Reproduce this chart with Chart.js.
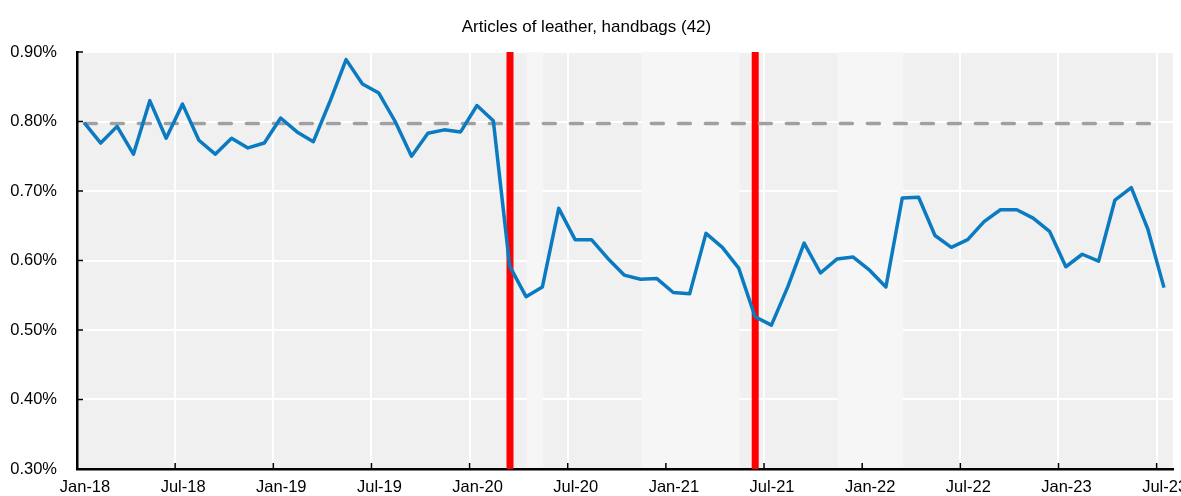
<!DOCTYPE html>
<html>
<head>
<meta charset="utf-8">
<script src="https://cdn.jsdelivr.net/npm/chart.js@4.4.0/dist/chart.umd.min.js"></script>
<style>
  html, body { margin: 0; padding: 0; overflow: hidden; background: #fff; }
  #wrap { width: 1200px; height: 496px; }
</style>
</head>
<body>
<div id="wrap"><canvas id="chart"></canvas></div>
<script>
// Monthly share (%), Jan-18 to Jul-23
const shareValues = [
  0.798, 0.769, 0.793, 0.753, 0.830, 0.776, 0.825, 0.773, 0.753, 0.776, 0.762, 0.769,
  0.805, 0.785, 0.771, 0.828, 0.889, 0.854, 0.841, 0.800, 0.750, 0.783, 0.788, 0.785,
  0.823, 0.801, 0.592, 0.548, 0.562, 0.675, 0.630, 0.630, 0.603, 0.579, 0.573, 0.574,
  0.554, 0.552, 0.639, 0.619, 0.589, 0.519, 0.507, 0.562, 0.625, 0.582, 0.602, 0.605,
  0.586, 0.562, 0.690, 0.691, 0.636, 0.619, 0.630, 0.656, 0.673, 0.673, 0.661, 0.642,
  0.591, 0.609, 0.599, 0.687, 0.705, 0.646, 0.561
];
const referenceLevel = 0.797;

// months counted from Jan-18 = 0
const tickMonths = [0, 6, 12, 18, 24, 30, 36, 42, 48, 54, 60, 66];
const tickLabels = ['Jan-18', 'Jul-18', 'Jan-19', 'Jul-19', 'Jan-20', 'Jul-20',
                    'Jan-21', 'Jul-21', 'Jan-22', 'Jul-22', 'Jan-23', 'Jul-23'];
const yTicks = [0.3, 0.4, 0.5, 0.6, 0.7, 0.8, 0.9];

// lighter shaded periods and the two red event markers (in months)
const lighterPeriods = [[27.5, 28.5], [34.5, 40.5], [46.5, 50.5]];
const eventMonths = [26.47, 41.46];

const midMonth = 0.45; // values are plotted around mid-month

const fontFamily = "'Liberation Sans', Arial, sans-serif";

const backdrop = {
  id: 'backdrop',
  beforeDraw(chart) {
    const { ctx, chartArea: a } = chart;
    ctx.save();
    ctx.fillStyle = '#f0f0f0';
    ctx.fillRect(a.left, a.top, a.right - a.left, a.bottom - a.top);
    ctx.restore();
  },
  beforeDatasetsDraw(chart) {
    const { ctx, chartArea: a, scales: { x } } = chart;
    ctx.save();
    ctx.fillStyle = '#f6f6f6';
    lighterPeriods.forEach(([from, to]) => {
      const x0 = x.getPixelForValue(from);
      const x1 = x.getPixelForValue(to);
      ctx.fillRect(x0, a.top, x1 - x0, a.bottom - a.top - 1.5);
    });
    ctx.strokeStyle = '#ff0000';
    ctx.lineWidth = 7;
    eventMonths.forEach(m => {
      const px = x.getPixelForValue(m);
      ctx.beginPath();
      ctx.moveTo(px, a.top);
      ctx.lineTo(px, a.bottom);
      ctx.stroke();
    });
    ctx.restore();
  },
  afterDatasetsDraw(chart) {
    // small inward tick marks
    const { ctx, chartArea: a, scales: { x, y } } = chart;
    ctx.save();
    ctx.strokeStyle = '#000';
    ctx.lineWidth = 1.5;
    ctx.beginPath();
    tickMonths.forEach(m => {
      const px = x.getPixelForValue(m);
      ctx.moveTo(px, a.bottom);
      ctx.lineTo(px, a.bottom - 6);
    });
    yTicks.forEach(v => {
      const py = y.getPixelForValue(v);
      ctx.moveTo(a.left, py);
      ctx.lineTo(a.left + 6, py);
    });
    ctx.stroke();
    ctx.restore();
  }
};

new Chart(document.getElementById('chart'), {
  type: 'line',
  data: {
    datasets: [
      {
        label: 'Share',
        data: shareValues.map((v, i) => ({ x: i + midMonth, y: v })),
        borderColor: '#0b7bc1',
        borderWidth: 3.5,
        borderJoinStyle: 'round',
        pointRadius: 0,
        tension: 0,
        order: 1
      },
      {
        label: 'Reference',
        data: shareValues.map((v, i) => ({ x: i + midMonth, y: referenceLevel })),
        borderColor: '#a0a0a0',
        borderWidth: 3.5,
        borderDash: [12, 15],
        borderCapStyle: 'round',
        pointRadius: 0,
        order: 2
      }
    ]
  },
  options: {
    responsive: true,
    maintainAspectRatio: false,
    animation: false,
    layout: { padding: { right: 27 } },
    plugins: {
      legend: { display: false },
      tooltip: { enabled: false },
      title: {
        display: true,
        text: 'Articles of leather, handbags (42)',
        color: '#000',
        font: { family: fontFamily, size: 17, weight: 'normal', lineHeight: 1.2 },
        padding: { top: 17, bottom: 14.6 }
      }
    },
    scales: {
      x: {
        type: 'linear',
        min: 0,
        max: 67,
        afterBuildTicks: s => { s.ticks = tickMonths.map(v => ({ value: v })); },
        afterFit: s => { s.height = 27; },
        ticks: {
          callback: (v, i) => tickLabels[i],
          color: '#000',
          font: { family: fontFamily, size: 16.5, lineHeight: 0.8 },
          labelOffset: 8,
          padding: 11.4,
          maxRotation: 0,
          autoSkip: false
        },
        grid: { color: '#fff', lineWidth: 2, drawTicks: false },
        border: { color: '#000', width: 2.5 }
      },
      y: {
        min: 0.3,
        max: 0.9,
        afterBuildTicks: s => { s.ticks = yTicks.map(v => ({ value: v })); },
        // fixed axis width; the label gap should not push the plot bottom up
        afterFit: s => { s.width = 77; s.paddingBottom = 10; },
        ticks: {
          callback: v => v.toFixed(2) + '%',
          color: '#000',
          font: { family: fontFamily, size: 16.5 },
          padding: 20
        },
        grid: { color: '#fff', lineWidth: 2, drawTicks: false },
        border: { color: '#000', width: 2.5 }
      }
    }
  },
  plugins: [backdrop]
});
</script>
</body>
</html>
